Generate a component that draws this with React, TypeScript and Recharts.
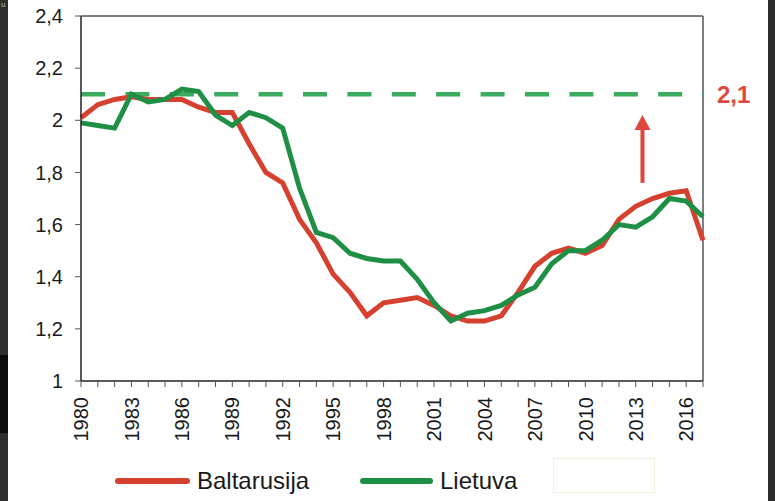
import React from 'react'
import { LineChart, Line, XAxis, YAxis, ReferenceLine } from 'recharts'

const years = [
  1980, 1981, 1982, 1983, 1984, 1985, 1986, 1987, 1988, 1989,
  1990, 1991, 1992, 1993, 1994, 1995, 1996, 1997, 1998, 1999,
  2000, 2001, 2002, 2003, 2004, 2005, 2006, 2007, 2008, 2009,
  2010, 2011, 2012, 2013, 2014, 2015, 2016, 2017,
]

const baltarusija = [
  2.01, 2.06, 2.08, 2.09, 2.08, 2.08, 2.08, 2.05, 2.03, 2.03,
  1.91, 1.8, 1.76, 1.62, 1.53, 1.41, 1.34, 1.25, 1.3, 1.31,
  1.32, 1.29, 1.25, 1.23, 1.23, 1.25, 1.34, 1.44, 1.49, 1.51,
  1.49, 1.52, 1.62, 1.67, 1.7, 1.72, 1.73, 1.54,
]

const lietuva = [
  1.99, 1.98, 1.97, 2.1, 2.07, 2.08, 2.12, 2.11, 2.02, 1.98,
  2.03, 2.01, 1.97, 1.74, 1.57, 1.55, 1.49, 1.47, 1.46, 1.46,
  1.39, 1.3, 1.23, 1.26, 1.27, 1.29, 1.33, 1.36, 1.45, 1.5,
  1.5, 1.54, 1.6, 1.59, 1.63, 1.7, 1.69, 1.63,
]

const yTicks = [1, 1.2, 1.4, 1.6, 1.8, 2, 2.2, 2.4]
const replacementLevel = 2.1
const replacementLabel = '2,1'
// annotation arrow (year position, from -> to value)
const arrowYear = 2013.4
const arrowFrom = 1.76
const arrowTo = 2.02

const RED = '#d5402f'
const GREEN = '#1f8f45'
const DASH_GREEN = '#3aab5f'
const FONT = '"Liberation Sans", Arial, sans-serif'

const data = years.map((year, i) => ({
  year,
  baltarusija: baltarusija[i],
  lietuva: lietuva[i],
}))

const fmt = (v: number) => String(Number(v.toFixed(1))).replace('.', ',')

const YearTick = ({ x, y, payload }: any) => {
  const yr = payload.value
  if ((yr - 1980) % 3 !== 0) return null
  return (
    <text
      x={x}
      y={y}
      transform={`rotate(-90 ${x} ${y})`}
      textAnchor="end"
      dy="0.36em"
      fontSize={20}
      fontFamily={FONT}
      fill="#1a1a1a"
    >
      {yr}
    </text>
  )
}

const ArrowShape = ({ x1, y1, x2, y2 }: any) => {
  const head = 15
  return (
    <g>
      <line x1={x1} y1={y1} x2={x2} y2={y2 + head - 1} stroke="#e0463c" strokeWidth={4} />
      <polygon
        points={`${x2},${y2} ${x2 - 8},${y2 + head} ${x2 + 8},${y2 + head}`}
        fill="#e0463c"
      />
    </g>
  )
}

export default function App() {
  return (
    <div
      style={{
        position: 'fixed',
        left: 0,
        top: 0,
        width: 775,
        height: 501,
        background: '#ffffff',
        fontFamily: FONT,
        overflow: 'hidden',
      }}
    >
      {/* dark edges of the screenshot */}
      <div style={{ position: 'absolute', left: 0, top: 0, width: 8, height: 501, background: '#2f2f2f' }} />
      <div style={{ position: 'absolute', left: 0, top: 355, width: 8, height: 78, background: '#0c0c0c' }} />
      <div style={{ position: 'absolute', left: 768, top: 0, width: 7, height: 501, background: '#2b2b2b' }} />
      <span style={{ position: 'absolute', left: 1, top: 1, fontSize: 8, lineHeight: '8px', color: '#bbb' }}>u</span>

      <LineChart
        width={775}
        height={501}
        data={data}
        margin={{ top: 16, right: 72, left: 21, bottom: 60 }}
        style={{ position: 'absolute', left: 0, top: 0 }}
      >
        <XAxis
          dataKey="year"
          type="number"
          domain={[1980, 2017]}
          ticks={years}
          interval={0}
          height={60}
          tick={<YearTick />}
          tickSize={6}
          tickMargin={10}
          axisLine={{ stroke: '#222', strokeWidth: 1.5 }}
          tickLine={{ stroke: '#555' }}
        />
        <YAxis
          domain={[1, 2.4]}
          ticks={yTicks}
          width={60}
          tickFormatter={fmt}
          tickSize={6}
          tickMargin={12}
          tick={{ fontSize: 20, fill: '#1a1a1a', fontFamily: FONT }}
          axisLine={{ stroke: '#222', strokeWidth: 1.5 }}
          tickLine={{ stroke: '#555' }}
        />
        <ReferenceLine y={2.4} stroke="#555" strokeWidth={1.5} />
        <ReferenceLine x={2017} stroke="#555" strokeWidth={1.5} />
        <ReferenceLine
          y={replacementLevel}
          stroke={DASH_GREEN}
          strokeWidth={4.5}
          strokeDasharray="24 20.4"
          label={{
            value: replacementLabel,
            position: 'right',
            offset: 14,
            fill: '#e04a3e',
            fontSize: 24,
            fontWeight: 'bold',
            fontFamily: FONT,
          }}
        />
        <ReferenceLine
          segment={[
            { x: arrowYear, y: arrowFrom },
            { x: arrowYear, y: arrowTo },
          ]}
          shape={<ArrowShape />}
        />
        <Line
          type="linear"
          dataKey="baltarusija"
          stroke={RED}
          strokeWidth={5}
          dot={false}
          isAnimationActive={false}
        />
        <Line
          type="linear"
          dataKey="lietuva"
          stroke={GREEN}
          strokeWidth={5}
          dot={false}
          isAnimationActive={false}
        />
      </LineChart>

      {/* legend */}
      <div style={{ position: 'absolute', left: 115, top: 466, height: 30, display: 'flex', alignItems: 'center' }}>
        <div style={{ width: 75, height: 6, borderRadius: 3, background: RED }} />
        <span style={{ marginLeft: 7, fontSize: 24, color: '#1a1a1a' }}>Baltarusija</span>
      </div>
      <div style={{ position: 'absolute', left: 360, top: 466, height: 30, display: 'flex', alignItems: 'center' }}>
        <div style={{ width: 73, height: 6, borderRadius: 3, background: GREEN }} />
        <span style={{ marginLeft: 7, fontSize: 24, color: '#1a1a1a' }}>Lietuva</span>
      </div>
      <div
        style={{
          position: 'absolute',
          left: 553,
          top: 458,
          width: 100,
          height: 33,
          border: '1px solid #f1f1d8',
        }}
      />
    </div>
  )
}
